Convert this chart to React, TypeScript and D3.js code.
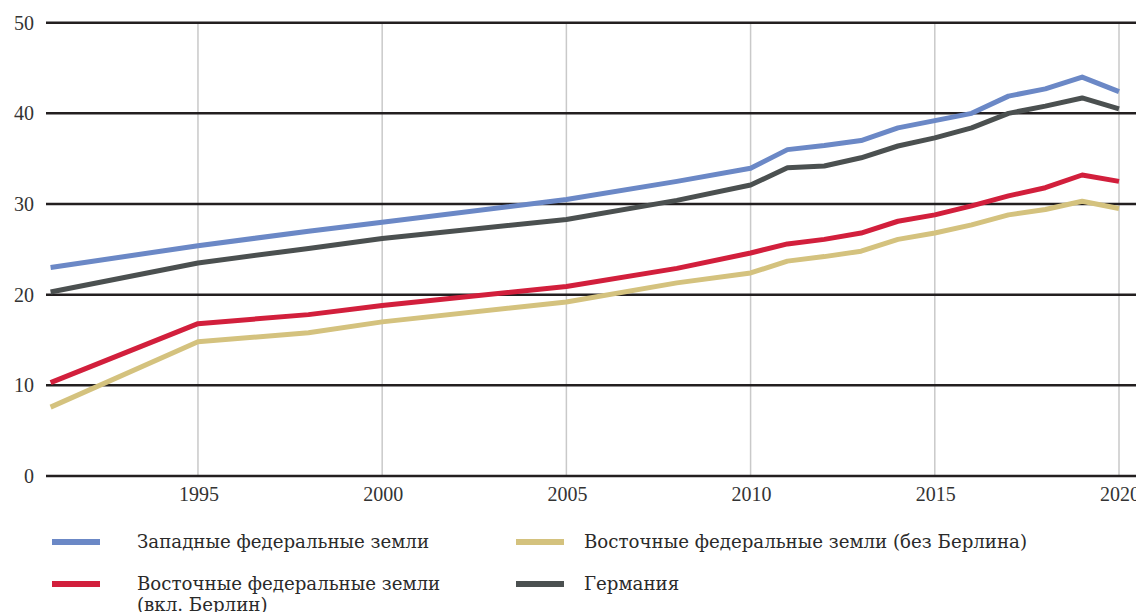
import React from "react";
import * as d3 from "d3";

const years = [1991, 1995, 1998, 2000, 2005, 2008, 2010, 2011, 2012, 2013, 2014, 2015, 2016, 2017, 2018, 2019, 2020];
const west = [23.0, 25.4, 27.0, 28.0, 30.5, 32.5, 33.95, 36.0, 36.45, 37.0, 38.4, 39.2, 40.0, 41.9, 42.7, 44.0, 42.4];
const germany = [20.3, 23.5, 25.1, 26.2, 28.3, 30.4, 32.1, 34.0, 34.2, 35.1, 36.4, 37.3, 38.4, 40.0, 40.8, 41.7, 40.5];
const eastIncl = [10.3, 16.8, 17.8, 18.8, 20.9, 22.9, 24.6, 25.6, 26.1, 26.8, 28.1, 28.8, 29.8, 30.9, 31.8, 33.2, 32.5];
const eastExcl = [7.6, 14.8, 15.8, 17.0, 19.2, 21.3, 22.4, 23.7, 24.2, 24.8, 26.1, 26.8, 27.7, 28.8, 29.4, 30.3, 29.5];

const yTicks = [0, 10, 20, 30, 40, 50];
const xTicks = [1995, 2000, 2005, 2010, 2015, 2020];

const seriesNames = [
  "Западные федеральные земли",
  "Восточные федеральные земли (без Берлина)",
  "Восточные федеральные земли",
  "Германия",
];
const seriesColors = ["#6b88c6", "#d4c27e", "#d21f3c", "#4b5050"];

export default function App() {
  const W = 1136;
  const H = 612;
  const x = d3.scaleLinear().domain([1991, 2020]).range([50.6, 1119]);
  const y = d3.scaleLinear().domain([0, 50]).range([476, 22.7]);
  const line = d3
    .line<number>()
    .x((_, i) => x(years[i]))
    .y((d) => y(d));

  const series = [
    { values: eastExcl, color: seriesColors[1] },
    { values: eastIncl, color: seriesColors[2] },
    { values: germany, color: seriesColors[3] },
    { values: west, color: seriesColors[0] },
  ];

  const font = "'Liberation Serif', serif";
  const legendFont = "'DejaVu Serif', serif";

  const legend = [
    { name: seriesNames[0], sub: null, color: seriesColors[0], lx: 52, ly: 542, tx: 137 },
    { name: seriesNames[1], sub: null, color: seriesColors[1], lx: 516, ly: 542, tx: 584 },
    { name: seriesNames[2], sub: "(вкл. Берлин)", color: seriesColors[2], lx: 52, ly: 584, tx: 137 },
    { name: seriesNames[3], sub: null, color: seriesColors[3], lx: 516, ly: 584, tx: 584 },
  ];

  return (
    <svg
      width={W}
      height={H}
      style={{ position: "absolute", left: 0, top: 0, background: "#fff" }}
    >
      {xTicks.map((t) => (
        <line
          key={"v" + t}
          x1={x(t)}
          x2={x(t)}
          y1={y(50)}
          y2={y(0)}
          stroke="#c9c9c9"
          strokeWidth={1.5}
        />
      ))}
      {yTicks.map((t) => (
        <g key={"h" + t}>
          <line x1={46} x2={W} y1={y(t)} y2={y(t)} stroke="#231f20" strokeWidth={2.5} />
          <text
            x={34}
            y={y(t)}
            textAnchor="end"
            dominantBaseline="central"
            fontFamily={font}
            fontSize={20}
            fill="#333"
          >
            {t}
          </text>
        </g>
      ))}
      {xTicks.map((t) => (
        <text
          key={"xl" + t}
          x={x(t) + 1}
          y={501}
          textAnchor="middle"
          fontFamily={font}
          fontSize={20}
          fill="#333"
        >
          {t}
        </text>
      ))}
      {series.map((s, i) => (
        <path
          key={i}
          d={line(s.values) || ""}
          fill="none"
          stroke={s.color}
          strokeWidth={5}
          strokeLinejoin="round"
          strokeLinecap="butt"
        />
      ))}
      {legend.map((l, i) => (
        <g key={"lg" + i}>
          <line x1={l.lx} x2={l.lx + 48} y1={l.ly} y2={l.ly} stroke={l.color} strokeWidth={6} />
          <text x={l.tx} y={l.ly + 6} fontFamily={legendFont} fontSize={18.2} fill="#2a2a2a">
            {l.name}
          </text>
          {l.sub && (
            <text x={l.tx} y={l.ly + 27} fontFamily={legendFont} fontSize={18.2} fill="#2a2a2a">
              {l.sub}
            </text>
          )}
        </g>
      ))}
    </svg>
  );
}
